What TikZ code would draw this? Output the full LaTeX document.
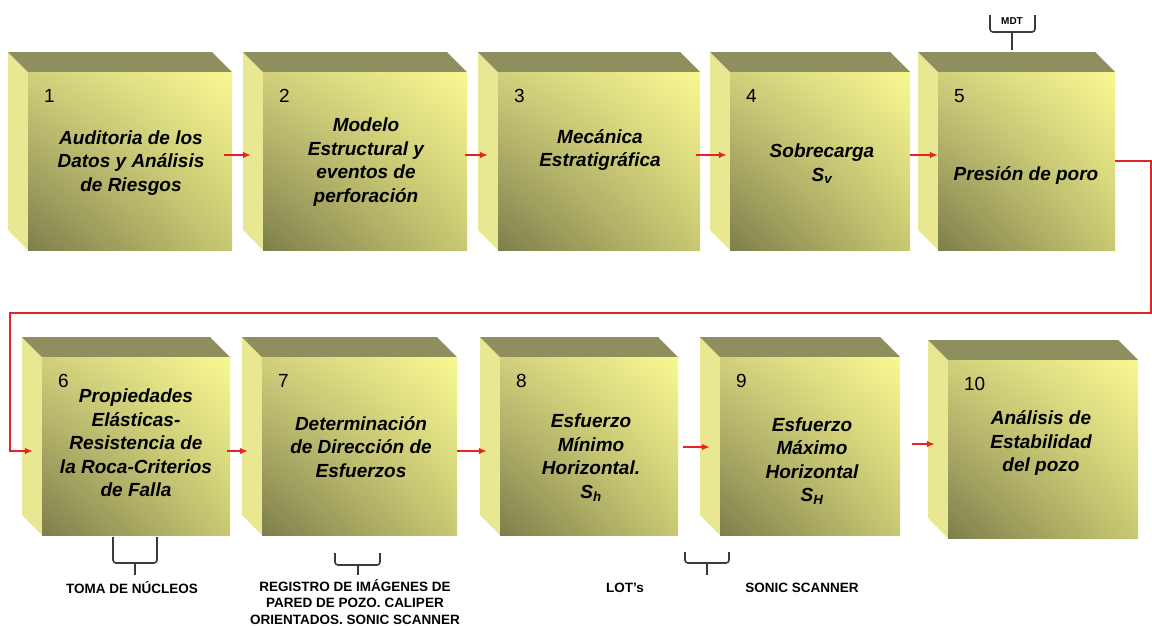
\documentclass[tikz,border=0pt]{standalone}
\usepackage{fontspec}
\setmainfont{Liberation Sans}
\usetikzlibrary{positioning,fit,arrows.meta,shadings}

\definecolor{caraUL}{HTML}{D0D07C}
\definecolor{caraUR}{HTML}{F8F892}
\definecolor{caraLL}{HTML}{7E7E4C}
\definecolor{caraLR}{HTML}{C8C872}
\definecolor{olivo}{HTML}{8E8E5E}
\definecolor{palido}{HTML}{E8E892}
\definecolor{rojo}{HTML}{E42424}
\definecolor{gris}{HTML}{3A3A3A}

% caja: nombre, x izq, y sup, x der, y inf, numero
\newcommand{\caja}[6]{%
  \fill[lateral] (#2,#3) -- ++(-20,-20) -- (#2-20,#5-20) -- (#2,#5) -- cycle;
  \fill[tapa] (#2,#3) -- ++(-20,-20) -- (#4-20,#3-20) -- (#4,#3) -- cycle;
  \shade[frente] (#2,#3) rectangle (#4,#5);
  \node[fit={(#2,#3) (#4,#5)},inner sep=0pt] (#1) {};
  \node[numero] (#1n) at ([xshift=16pt,yshift=-31pt]#1.north west) {#6};
}

\begin{document}
\begin{tikzpicture}
    \tikzset{x=1pt,y=-1pt,
      frente/.style={upper left=caraUL,upper right=caraUR,lower left=caraLL,lower right=caraLR},
      tapa/.style={fill=olivo},
      lateral/.style={fill=palido},
      numero/.style={anchor=base west,inner sep=0pt,font=\fontsize{19}{23}\selectfont},
      texto/.style={align=center,inner sep=0pt,font=\fontsize{19}{23.5}\selectfont\bfseries\itshape},
      flecha/.style={-{Latex[length=8pt,width=6.5pt]},draw=rojo,line width=1.4pt},
      llave/.style={draw=gris,line width=1.6pt,rounded corners=3pt},
      etiqueta/.style={align=center,inner sep=0pt,font=\fontsize{13.5}{16.5}\selectfont\bfseries}}
    \useasboundingbox (0,0) rectangle (1152,625);
    % fila superior
    \caja{e1}{28}{72}{232}{250}{1}
    \caja{e2}{263}{72}{467}{250}{2}
    \caja{e3}{498}{72}{700}{250}{3}
    \caja{e4}{730}{72}{910}{250}{4}
    \caja{e5}{938}{72}{1115}{250}{5}
    % fila inferior
    \caja{e6}{42}{357}{230}{535}{6}
    \caja{e7}{262}{357}{457}{535}{7}
    \caja{e8}{500}{357}{678}{535}{8}
    \caja{e9}{720}{357}{900}{535}{9}
    \caja{e10}{948}{360}{1138}{538}{10}
    \node[texto] (t1) at (131,163) {Auditoria de los\\Datos y Análisis\\de Riesgos};
    \node[texto] (t2) at (366,162) {Modelo\\Estructural y\\eventos de\\perforación};
    \node[texto] (t3) at (600,150) {Mecánica\\Estratigráfica};
    \node[texto] (t4) at (822,164) {Sobrecarga\\S\textsubscript{v}};
    \node[texto] (t5) at (1026,175) {Presión de poro};
    \node[texto] (t6) at (136,443) {Propiedades\\Elásticas-\\Resistencia de\\la Roca-Criterios\\de Falla};
    \node[texto] (t7) at (361,447) {Determinación\\de Dirección de\\Esfuerzos};
    \node[texto] (t8) at (591,458) {Esfuerzo\\Mínimo\\Horizontal.\\S\textsubscript{h}};
    \node[texto] (t9) at (812,461) {Esfuerzo\\Máximo\\Horizontal\\S\textsubscript{H}};
    \node[texto] (t10) at (1041,443) {Análisis de\\Estabilidad\\del pozo};
    \draw[flecha] ([xshift=-8pt,yshift=6pt]e1.east) -- ([xshift=-12pt,yshift=6pt]e2.west);
    \draw[flecha] ([xshift=-2pt,yshift=6pt]e2.east) -- ([xshift=-10pt,yshift=6pt]e3.west);
    \draw[flecha] ([xshift=-4pt,yshift=6pt]e3.east) -- ([xshift=-3pt,yshift=6pt]e4.west);
    \draw[flecha] ([yshift=6pt]e4.east) -- ([yshift=6pt]e5.west);
    \coordinate (q2) at (1151,313);
    \coordinate (q3) at (10,313);
    \draw[flecha] (e5.east) -| (q2) -- (q3) |- ([xshift=-9pt,yshift=-5pt]e6.west);
    \draw[flecha] ([xshift=-3pt,yshift=-5pt]e6.east) -- ([xshift=-14pt,yshift=-5pt]e7.west);
    \draw[flecha] ([yshift=-5pt]e7.east) -- ([xshift=-13pt,yshift=-5pt]e8.west);
    \draw[flecha] ([xshift=5pt,yshift=-1pt]e8.east) -- ([xshift=-10pt,yshift=-1pt]e9.west);
    \draw[flecha] ([xshift=12pt,yshift=2pt]e9.east) -- ([xshift=-13pt,yshift=5pt]e10.west);
    % llaves
    \draw[llave] (990,15) -- (990,32) -- (1035,32) -- (1035,15);
    \draw[llave] (1012,32) -- (1012,50);
    \node[etiqueta,font=\fontsize{10}{12}\selectfont\bfseries] (mdt) at (1012,21) {MDT};
    \draw[llave] (113,537) -- (113,563) -- (157,563) -- (157,537);
    \draw[llave] (135,563) -- (135,575);
    \draw[llave] (335,553) -- (335,565) -- (380,565) -- (380,553);
    \draw[llave] (358,565) -- (358,575);
    \draw[llave] (685,552) -- (685,563) -- (729,563) -- (729,552);
    \draw[llave] (707,563) -- (707,575);
    \node[etiqueta] (l6) at (132,588) {TOMA DE NÚCLEOS};
    \node[etiqueta] (l7) at (355,602) {REGISTRO DE IMÁGENES DE\\PARED DE POZO. CALIPER\\ORIENTADOS. SONIC SCANNER};
    \node[etiqueta] (l8) at (625,588) {LOT's};
    \node[etiqueta] (l9) at (802,588) {SONIC SCANNER};
\end{tikzpicture}
\end{document}
